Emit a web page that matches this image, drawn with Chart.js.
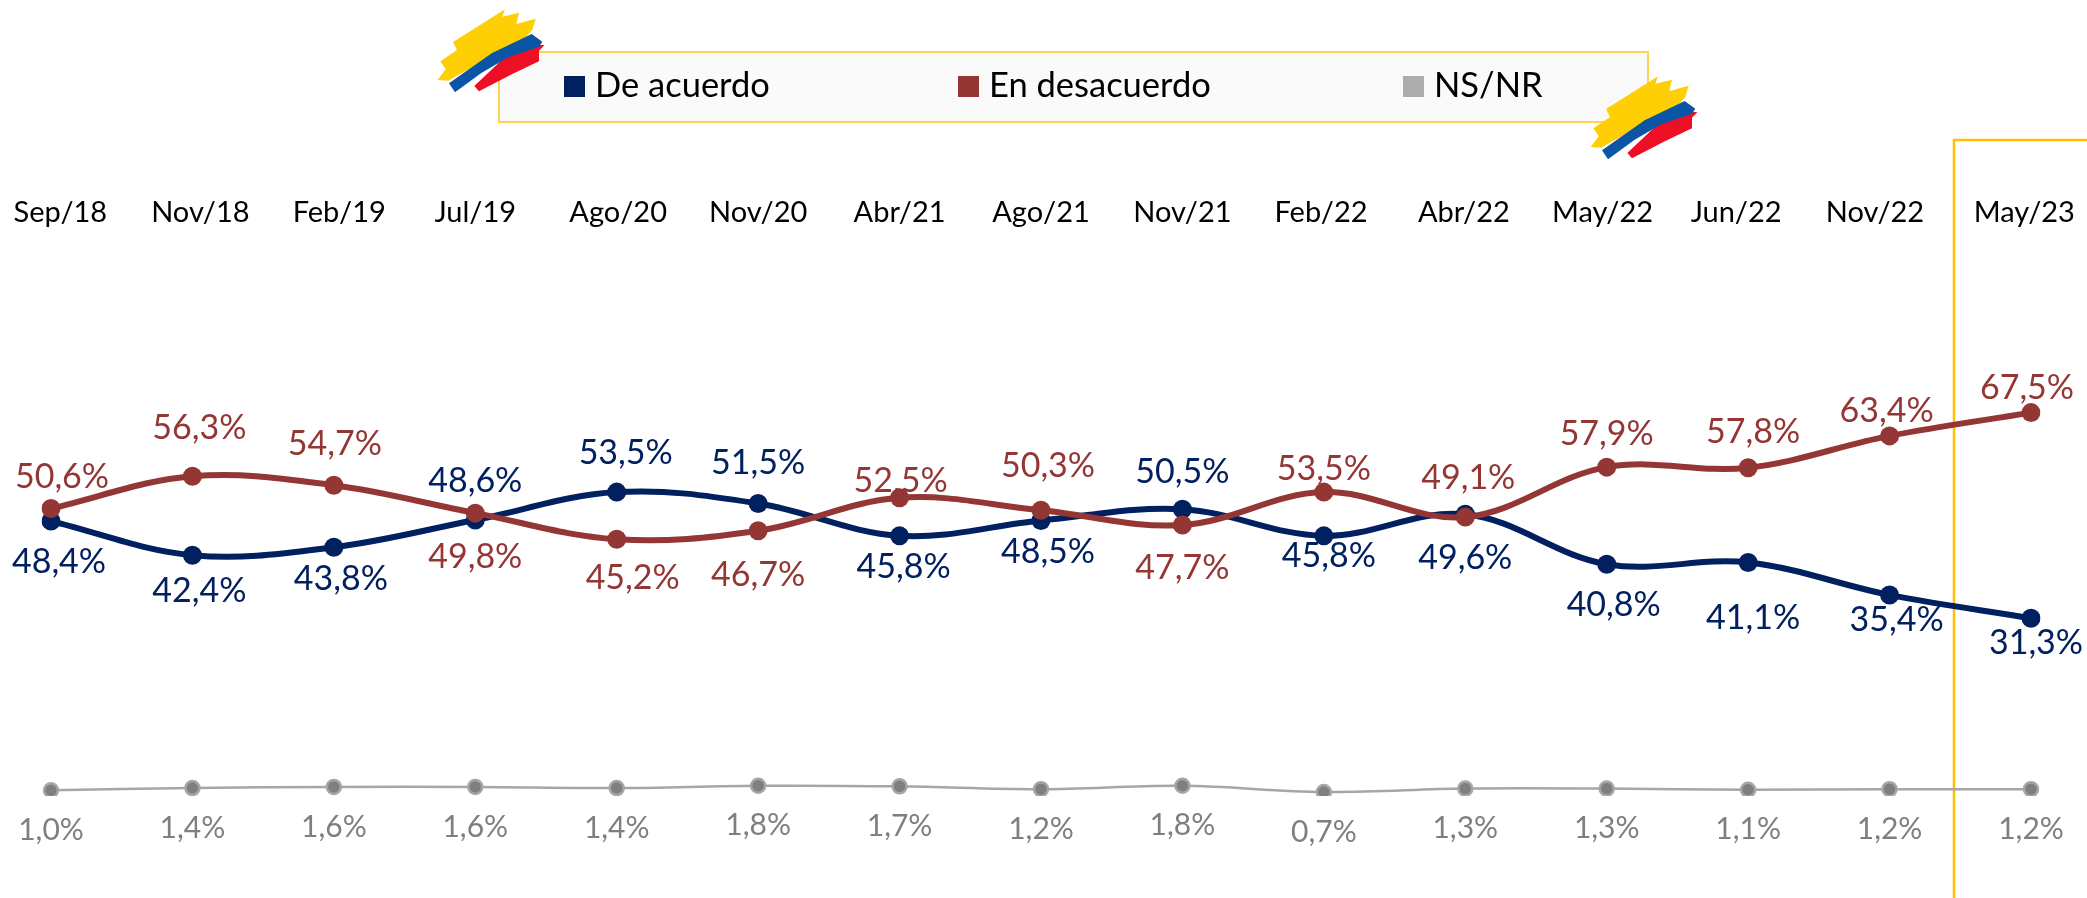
<!DOCTYPE html>
<html><head><meta charset="utf-8">
<style>html,body{margin:0;padding:0;background:#fff}canvas{display:block}</style>
<script src="https://cdn.jsdelivr.net/npm/chart.js@4/dist/chart.umd.min.js"></script>
</head><body>
<div style="width:2087px;height:898px"><canvas id="c" width="2087" height="898"></canvas></div>
<script>
const categories=["Sep/18","Nov/18","Feb/19","Jul/19","Ago/20","Nov/20","Abr/21","Ago/21","Nov/21","Feb/22","Abr/22","May/22","Jun/22","Nov/22","May/23"];
const deAcuerdo=[48.4,42.4,43.8,48.6,53.5,51.5,45.8,48.5,50.5,45.8,49.6,40.8,41.1,35.4,31.3];
const enDesacuerdo=[50.6,56.3,54.7,49.8,45.2,46.7,52.5,50.3,47.7,53.5,49.1,57.9,57.8,63.4,67.5];
const nsNr=[1.0,1.4,1.6,1.6,1.4,1.8,1.7,1.2,1.8,0.7,1.3,1.3,1.1,1.2,1.2];
// label nudges relative to each marker (px)
const blueDx=[8,7,7,0,9,0,4,7,0,5,0,7,5,7,5];
const blueDy=[41,36,32,-39,-39,-40,31,32,-37,20,44,41,55,25,25];
const redDx=[11,7,1,0,16,0,1,7,0,0,3,0,5,-3,-4];
const redDy=[-32,-48,-41,44,39,44,-17,-44,43,-23,-39,-33,-36,-25,-25];
const grayDy=40;
// the reference's header labels sit slightly off their points (in category steps)
const tickNudge=[0.066,0.056,0.038,0,0.01,0,0,0,0,-0.02,-0.01,-0.03,-0.085,-0.103,-0.047];
const BLUE="#002060",RED="#943634",GRAY="#A6A6A6",GRAYTXT="#7F7F7F",GOLD="#FFC000";
const FONT="Lato, Carlito, sans-serif";

const flagShapes=[
 ["#FFCF06",[[38,240],[62,208],[46,184],[96,150],[84,126],[240,28],[232,50],[282,38],[274,72],[332,56],[322,90],[300,115],[200,170],[100,225],[70,242]]],
 ["#EE0F24",[[148,258],[220,190],[300,130],[358,136],[342,152],[342,184],[262,222],[162,274]]],
 ["#0B55A5",[[72,250],[200,160],[320,102],[352,125],[342,140],[250,172],[170,218],[90,277]]]];
function flag(ctx,ox,oy){
  ctx.save();ctx.translate(ox,oy);ctx.scale(1/3,1/3);
  for(const [col,pts] of flagShapes){ctx.fillStyle=col;ctx.beginPath();
    pts.forEach((p,i)=>i?ctx.lineTo(p[0],p[1]):ctx.moveTo(p[0],p[1]));ctx.closePath();ctx.fill();}
  ctx.restore();
}
const decor={id:"decor",
 beforeDraw(ch){const c=ch.ctx;c.save();
  c.fillStyle="#FAFAFA";c.fillRect(499,52,1149,70);
  c.strokeStyle="#FFD34D";c.lineWidth=2;c.strokeRect(499,52,1149,70);
  c.strokeStyle=GOLD;c.lineWidth=2.5;c.beginPath();c.moveTo(2087,140);c.lineTo(1954,140);c.lineTo(1954,898);c.stroke();
  c.restore();},
 afterDraw(ch){const c=ch.ctx;c.save();
  flag(c,425,0);flag(c,1578,67);
  c.font="34.5px "+FONT;c.textBaseline="middle";c.textAlign="left";
  const xs=[564,958,1403];
  ch.data.datasets.forEach((d,i)=>{c.fillStyle=d.legendColor;c.fillRect(xs[i],76,21,21);
    c.fillStyle="#000";c.fillText(d.label,xs[i]+31,86);});
  c.restore();}};
const valueLabels={id:"valueLabels",
 afterDatasetsDraw(ch){const c=ch.ctx;c.save();c.textAlign="center";c.textBaseline="middle";
  ch.data.datasets.forEach((d,i)=>{const m=ch.getDatasetMeta(i);
   c.font=(i==2?"30px ":"34px ")+FONT;c.fillStyle=d.labelColor;
   m.data.forEach((p,j)=>{
    const t=d.data[j].toFixed(1).replace(".",",")+"%";
    c.fillText(t,p.x+d.dx[j],p.y+d.dy[j]);});});
  c.restore();}};

new Chart(document.getElementById("c"),{type:"line",
 data:{labels:categories,datasets:[
  {label:"De acuerdo",order:2,data:deAcuerdo,borderColor:BLUE,backgroundColor:BLUE,legendColor:BLUE,labelColor:BLUE,borderWidth:6,pointRadius:9.5,pointBackgroundColor:BLUE,pointBorderColor:BLUE,pointBorderWidth:0,tension:0.36,dx:blueDx,dy:blueDy},
  {label:"En desacuerdo",order:1,data:enDesacuerdo,borderColor:RED,backgroundColor:RED,legendColor:RED,labelColor:RED,borderWidth:6,pointRadius:9.5,pointBackgroundColor:RED,pointBorderColor:RED,pointBorderWidth:0,tension:0.36,dx:redDx,dy:redDy},
  {label:"NS/NR",order:3,data:nsNr,borderColor:GRAY,backgroundColor:GRAY,legendColor:"#ADADAD",labelColor:GRAYTXT,borderWidth:2.5,pointRadius:7,pointBackgroundColor:"#7F7F7F",pointBorderColor:GRAY,pointBorderWidth:2.5,tension:0.36,dx:nsNr.map(()=>0),dy:nsNr.map(()=>grayDy)}
 ]},
 options:{responsive:false,animation:false,events:[],
  layout:{padding:{left:51,right:56,top:0,bottom:102}},
  plugins:{legend:{display:false},tooltip:{enabled:false},title:{display:false}},
  scales:{
   x:{type:"category",display:false,offset:false},
   header:{axis:"x",type:"linear",position:"top",min:0,max:categories.length-1,
      grid:{display:false,drawTicks:false},border:{display:false},
      afterBuildTicks(s){s.ticks=categories.map((c,i)=>({value:i+tickNudge[i]}));},
      afterFit(s){s.height=228;},
      ticks:{autoSkip:false,maxRotation:0,minRotation:0,color:"#000",font:{family:FONT,size:29},padding:-2,align:"center",
             callback:(v,i)=>categories[i]}},
   y:{display:false,min:0,max:100}
  }},
 plugins:[decor,valueLabels]});
</script>
</body></html>
